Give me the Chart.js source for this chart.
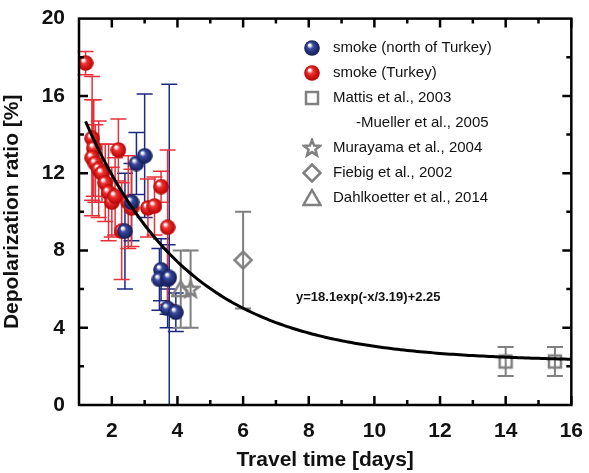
<!DOCTYPE html>
<html>
<head>
<script src="https://cdn.jsdelivr.net/npm/chart.js@4"></script>
<style>body{margin:0;background:#fff}</style>
</head>
<body>
<div style="width:589px;height:473px"><canvas id="myChart"></canvas></div>
<script>
// smoke (Turkey)
const redX = [1.2, 1.4, 1.45, 1.4, 1.5, 1.6, 1.7, 1.8, 1.9, 2.0, 2.2, 2.1, 2.3, 2.5, 2.6, 3.1, 3.3, 3.5, 3.7]
const redY = [17.7, 13.8, 13.3, 12.8, 12.5, 12.2, 12.0, 11.5, 11.0, 10.5, 13.2, 10.8, 9.0, 10.5, 10.2, 10.2, 10.3, 11.3, 9.2]
const redErr = [0.6, 3.2, 2.5, 3.0, 2.0, 2.5, 1.5, 2.0, 2.5, 1.8, 1.6, 2.0, 2.5, 2.4, 2.0, 1.5, 1.5, 0.8, 4.0]
// smoke (north of Turkey)
const blueX = [2.4, 2.75, 3.0, 2.6, 3.5, 3.45, 3.7, 3.7, 3.95, 3.75]
const blueY = [9.0, 12.5, 12.9, 10.5, 7.0, 6.5, 6.5, 5.0, 4.8, 6.6]
const blueErr = [3.0, 1.6, 3.2, 2.0, 1.6, 1.6, 1.8, 1.0, 1.0, 10.0]
// literature values
const mattisX = [14, 15.5], mattisY = [2.25, 2.25], mattisErr = [0.75, 0.75]
const murayamaX = [4.4], murayamaY = [6.0], murayamaErr = [2.0]
const fiebigX = [6.0], fiebigY = [7.5], fiebigErr = [2.5]
const dahlX = [4.1], dahlY = [6.0], dahlErr = [2.0]
const fitA = 18.1, fitT = 3.19, fitC = 2.25
const xTicks = [2, 4, 6, 8, 10, 12, 14, 16]
const yTicks = [0, 4, 8, 12, 16, 20]

const pts = (xs, ys) => xs.map((x, i) => ({ x: x, y: ys[i] }))
const fit = []
for (let x = 1.2; x <= 16; x += 0.1) fit.push({ x: x, y: fitA * Math.exp(-x / fitT) + fitC })

function ball (c1, c2) {
  const cv = document.createElement('canvas'); cv.width = 16; cv.height = 16
  const g = cv.getContext('2d')
  const gr = g.createRadialGradient(5.5, 5, 1, 8, 8, 8)
  gr.addColorStop(0, '#ffffff'); gr.addColorStop(0.3, c1); gr.addColorStop(1, c2)
  g.fillStyle = gr; g.beginPath(); g.arc(8, 8, 7.8, 0, Math.PI * 2); g.fill()
  return cv
}
function marker (kind) {
  const cv = document.createElement('canvas'); cv.width = 20; cv.height = 20
  const g = cv.getContext('2d')
  g.strokeStyle = '#808080'; g.lineWidth = 2.5; g.lineJoin = 'miter'
  g.beginPath()
  if (kind === 'square') g.rect(4, 4, 12, 12)
  if (kind === 'diamond') { g.moveTo(10, 1.5); g.lineTo(18.5, 10); g.lineTo(10, 18.5); g.lineTo(1.5, 10); g.closePath() }
  if (kind === 'triangle') { g.moveTo(10, 2); g.lineTo(18.5, 17); g.lineTo(1.5, 17); g.closePath() }
  if (kind === 'star') {
    for (let k = 0; k < 10; k++) {
      const r = k % 2 ? 3.6 : 8.5, a = -Math.PI / 2 + k * Math.PI / 5
      const px = 10 + r * Math.cos(a), py = 10.5 + r * Math.sin(a)
      k ? g.lineTo(px, py) : g.moveTo(px, py)
    }
    g.closePath()
  }
  g.stroke()
  return cv
}
const redBall = ball('#f03030', '#b00000')
const blueBall = ball('#3a4aa0', '#101a50')

const gray = '#808080'
const datasets = [
  { label: 'fit', type: 'line', data: fit, borderColor: '#000', borderWidth: 3, pointRadius: 0, order: 0 },
  { label: 'smoke (north of Turkey)', data: pts(blueX, blueY), errs: blueErr, errColor: '#1c2a80', pointStyle: blueBall },
  { label: 'smoke (Turkey)', data: pts(redX, redY), errs: redErr, errColor: '#e8303a', pointStyle: redBall },
  { label: 'Mattis et al., 2003', label2: '-Mueller et al., 2005', data: pts(mattisX, mattisY), errs: mattisErr, errColor: gray, pointStyle: marker('square') },
  { label: 'Murayama et al., 2004', data: pts(murayamaX, murayamaY), errs: murayamaErr, errColor: gray, pointStyle: marker('star') },
  { label: 'Fiebig et al., 2002', data: pts(fiebigX, fiebigY), errs: fiebigErr, errColor: gray, pointStyle: marker('diamond') },
  { label: 'Dahlkoetter et al., 2014', data: pts(dahlX, dahlY), errs: dahlErr, errColor: gray, pointStyle: marker('triangle') }
]

const extras = {
  id: 'extras',
  beforeDatasetsDraw (chart) {
    const ctx = chart.ctx, xs = chart.scales.x, ys = chart.scales.y
    ctx.save()
    chart.data.datasets.forEach(ds => {
      if (!ds.errs) return
      ctx.strokeStyle = ds.errColor; ctx.lineWidth = ds.errColor === gray ? 2 : 1.5
      ds.data.forEach((p, i) => {
        const px = xs.getPixelForValue(p.x)
        const top = ys.getPixelForValue(p.y + ds.errs[i])
        const bot = ys.getPixelForValue(Math.max(p.y - ds.errs[i], 0))
        ctx.beginPath()
        ctx.moveTo(px, top); ctx.lineTo(px, bot)
        ctx.moveTo(px - 8, top); ctx.lineTo(px + 8, top)
        if (p.y - ds.errs[i] > 0) { ctx.moveTo(px - 8, bot); ctx.lineTo(px + 8, bot) }
        ctx.stroke()
      })
    })
    ctx.restore()
  },
  afterDraw (chart) {
    const ctx = chart.ctx, xs = chart.scales.x, ys = chart.scales.y, a = chart.chartArea
    ctx.save()
    ctx.strokeStyle = '#000'; ctx.lineWidth = 2.5
    ctx.strokeRect(a.left, a.top, a.right - a.left, a.bottom - a.top)
    ctx.beginPath()
    for (let v = 2; v <= 16; v++) {
      const px = xs.getPixelForValue(v), l = v % 2 ? 5 : 9
      ctx.moveTo(px, a.bottom); ctx.lineTo(px, a.bottom - l)
      ctx.moveTo(px, a.top); ctx.lineTo(px, a.top + l)
    }
    for (let v = 2; v < 20; v += 2) {
      const py = ys.getPixelForValue(v), l = v % 4 ? 5 : 9
      ctx.moveTo(a.left, py); ctx.lineTo(a.left + l, py)
      ctx.moveTo(a.right, py); ctx.lineTo(a.right - l, py)
    }
    ctx.stroke()
    // legend
    ctx.font = '15px "Liberation Sans", Arial'
    ctx.textBaseline = 'middle'
    let y = 48
    chart.data.datasets.slice(1).forEach(ds => {
      const st = ds.pointStyle
      ctx.drawImage(st, 312 - st.width / 2, y - st.height / 2)
      ctx.fillStyle = '#111'
      ctx.fillText(ds.label, 333, y)
      y += 25
      if (ds.label2) { ctx.fillText(ds.label2, 356, y); y += 25 }
    })
    ctx.font = 'bold 13px "Liberation Sans", Arial'
    ctx.fillText('y=18.1exp(-x/3.19)+2.25', 296, 297)
    ctx.restore()
  }
}

const config = {
  type: 'scatter',
  data: { datasets: datasets },
  options: {
    responsive: true,
    maintainAspectRatio: false,
    animation: false,
    layout: { padding: { top: 0, right: 12, left: 0, bottom: 0 } },
    elements: { point: { radius: 8 } },
    plugins: { legend: { display: false }, tooltip: { enabled: false } },
    scales: {
      x: {
        min: 1, max: 16,
        grid: { display: false },
        border: { display: false },
        afterFit: s => { s.height = 68 },
        afterBuildTicks: s => { s.ticks = xTicks.map(v => ({ value: v })) },
        ticks: { color: '#111', font: { size: 21, weight: 'bold', family: '"Liberation Sans", Arial' }, padding: 6 },
        title: { display: true, text: 'Travel time [days]', color: '#111', font: { size: 21, weight: 'bold', family: '"Liberation Sans", Arial' }, padding: 0 }
      },
      y: {
        min: 0, max: 20,
        grid: { display: false },
        border: { display: false },
        afterFit: s => { s.width = 79 },
        afterBuildTicks: s => { s.ticks = yTicks.map(v => ({ value: v })) },
        ticks: { color: '#111', font: { size: 21, weight: 'bold', family: '"Liberation Sans", Arial' }, padding: 6 },
        title: { display: true, text: 'Depolarization ratio [%]', color: '#111', font: { size: 21, weight: 'bold', family: '"Liberation Sans", Arial' }, padding: 0 }
      }
    }
  },
  plugins: [extras]
}

var myChart = new Chart(document.getElementById('myChart'), config)
</script>
</body>
</html>
